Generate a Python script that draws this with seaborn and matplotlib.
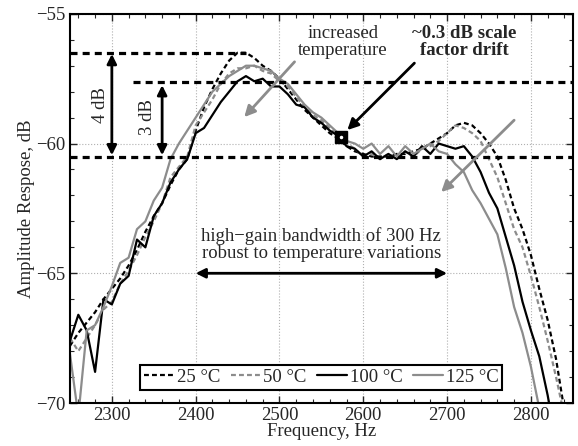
import numpy as np
import pandas as pd
import seaborn as sns
import matplotlib.pyplot as plt

freq = list(range(2250, 2851, 10))

t25 = [-67.8, -67.3, -66.9, -66.5, -66.0, -65.6, -65.2, -64.7, -64.1, -63.4,
       -62.8, -62.3, -61.6, -61.0, -60.6, -59.5, -58.6, -57.9, -57.3, -56.8,
       -56.5, -56.5, -56.7, -57.0, -57.2, -57.5, -57.9, -58.3, -58.7, -59.0,
       -59.3, -59.6, -59.8, -60.1, -60.3, -60.4, -60.5, -60.5, -60.5, -60.4,
       -60.4, -60.3, -60.2, -60.0, -59.8, -59.6, -59.3, -59.2, -59.3, -59.6,
       -60.0, -60.5, -61.4, -62.5, -63.3, -64.3, -65.6, -66.8, -68.3, -70.3,
       -71.5]

t50 = [-67.5, -68.0, -67.5, -67.0, -66.4, -66.1, -65.4, -64.9, -64.3, -63.6,
       -63.0, -62.3, -61.3, -60.9, -60.5, -59.3, -58.8, -58.3, -57.7, -57.3,
       -57.1, -57.1, -57.0, -57.2, -57.3, -57.6, -57.8, -58.2, -58.6, -58.9,
       -59.1, -59.4, -59.7, -60.0, -60.2, -60.5, -60.4, -60.6, -60.4, -60.6,
       -60.3, -60.5, -60.2, -60.1, -59.9, -59.6, -59.3, -59.4, -59.6, -59.9,
       -60.6, -61.3, -62.3, -63.3, -64.0, -65.1, -66.3, -67.6, -69.0, -70.5,
       -72.0]

t100 = [-67.6, -66.6, -67.2, -68.8, -66.0, -66.2, -65.4, -65.1, -63.7, -64.0,
        -62.8, -62.3, -61.5, -61.0, -60.6, -59.6, -59.4, -58.9, -58.4, -58.0,
        -57.6, -57.4, -57.6, -57.5, -57.8, -57.8, -58.1, -58.5, -58.6, -59.0,
        -59.2, -59.5, -59.7, -60.1, -60.2, -60.5, -60.3, -60.6, -60.4, -60.6,
        -60.3, -60.5, -60.1, -60.4, -60.0, -60.1, -60.2, -60.1, -60.5, -61.1,
        -61.9, -62.5, -63.6, -64.7, -66.1, -67.2, -68.2, -69.7, -71.5, -73.0,
        -74.0]

t125 = [-68.1, -70.5, -67.2, -67.0, -66.3, -65.5, -64.6, -64.4, -63.3, -63.0,
        -62.2, -61.7, -60.6, -60.0, -59.5, -59.0, -58.5, -58.0, -57.7, -57.4,
        -57.2, -57.0, -57.0, -57.1, -57.2, -57.5, -57.7, -58.1, -58.5, -58.8,
        -59.0, -59.3, -59.6, -59.9, -60.0, -60.2, -60.0, -60.4, -60.1, -60.5,
        -60.1, -60.4, -60.2, -60.0, -60.3, -60.4, -60.8, -61.1, -61.8, -62.3,
        -62.9, -63.5, -64.8, -66.3, -67.3, -68.6, -70.2, -72.0, -73.5, -75.0,
        -76.0]

labels = ["25 °C", "50 °C", "100 °C", "125 °C"]

# reference levels (dB) and their spans (Hz)
ref_levels = [-56.5, -57.63, -60.52]
ref_start = [2250, 2325, 2250]
ref_end = [2460, 2850, 2850]

drift_point = (2574, -59.75)

FS = 13.5
sns.set_style("ticks")
plt.rcParams["font.family"] = ["Liberation Serif", "DejaVu Serif"]
plt.rcParams["font.size"] = FS

fig = plt.figure(figsize=(5.78, 4.46), dpi=100)
ax = fig.add_axes([0.121, 0.0964, 0.870, 0.8726])

styles = [("black", (0, (2.2, 1.4))), ("#8c8c8c", (0, (2.2, 1.4))),
          ("black", "-"), ("#8c8c8c", "-")]
for vals, lab, (c, ls) in zip([t25, t50, t100, t125], labels, styles):
    sns.lineplot(x=freq, y=vals, ax=ax, color=c, linestyle=ls, lw=1.6,
                 label=lab, sort=False)

for lv, a, b in zip(ref_levels, ref_start, ref_end):
    ax.plot([a, b], [lv, lv], color="black", lw=2.3, ls=(0, (2.2, 1.6)))

# drift marker
ax.plot(*drift_point, marker="s", ms=8, color="black", zorder=5)
ax.plot(*drift_point, marker="o", ms=1.5, color="white", zorder=6)

blk = dict(arrowstyle="<|-|>", color="black", lw=2, mutation_scale=14,
           shrinkA=0, shrinkB=0)
ax.annotate("", xy=(2300, -56.55), xytext=(2300, -60.45), arrowprops=blk)
ax.annotate("", xy=(2360, -57.75), xytext=(2360, -60.45), arrowprops=blk)
ax.annotate("", xy=(2400, -65), xytext=(2700, -65), arrowprops=blk)
ax.text(2286, -58.5, "4 dB", rotation=90, ha="center", va="center")
ax.text(2343, -58.97, "3 dB", rotation=90, ha="center", va="center")

gray = dict(arrowstyle="-|>", color="#8c8c8c", lw=2, mutation_scale=16,
            shrinkA=0, shrinkB=0)
ax.annotate("", xy=(2458, -58.98), xytext=(2518, -56.85), arrowprops=gray)
ax.annotate("", xy=(2693, -61.87), xytext=(2780, -59.1), arrowprops=gray)
one = dict(arrowstyle="-|>", color="black", lw=2, mutation_scale=16,
           shrinkA=0, shrinkB=0)
ax.annotate("", xy=(2581, -59.48), xytext=(2661, -56.9), arrowprops=one)

ax.text(2576, -56.1, "increased\ntemperature", ha="center", va="center",
        linespacing=1.0)
ax.text(2721, -56.1, "~0.3 dB scale\nfactor drift", ha="center", va="center",
        fontweight="bold", linespacing=1.0)
ax.text(2550, -63.9, "high\u2212gain bandwidth of 300 Hz\nrobust to temperature variations",
        ha="center", va="center", linespacing=1.0)

ax.set_xlim(2250, 2850)
ax.set_ylim(-70, -55)
ax.set_xticks([2300, 2400, 2500, 2600, 2700, 2800])
ax.set_yticks([-70, -65, -60, -55])
ax.set_xticks(np.arange(2260, 2850, 20), minor=True)
ax.set_yticks(np.arange(-70, -54, 1), minor=True)
ax.grid(True, which="major", color="#b0b0b0", ls=":", lw=0.8)
ax.tick_params(which="both", direction="in", top=True, right=True,
               labelsize=FS, pad=3)
ax.tick_params(which="major", length=5, width=1)
ax.tick_params(which="minor", length=3, width=0.8)
for s in ax.spines.values():
    s.set_linewidth(1.5)
    s.set_color("black")
ax.set_xlabel("Frequency, Hz", labelpad=-1)
ax.set_ylabel("Amplitude Respose, dB", labelpad=1)

leg = ax.legend(loc="lower center", bbox_to_anchor=(0.5, 0.01), ncol=4,
                frameon=True, fancybox=False, handlelength=1.6,
                handletextpad=0.15, columnspacing=0.55, borderpad=0.2,
                fontsize=FS)
leg.get_frame().set_edgecolor("black")
leg.get_frame().set_linewidth(1.5)
leg.get_frame().set_alpha(1)

fig.savefig("out.png", dpi=100)
